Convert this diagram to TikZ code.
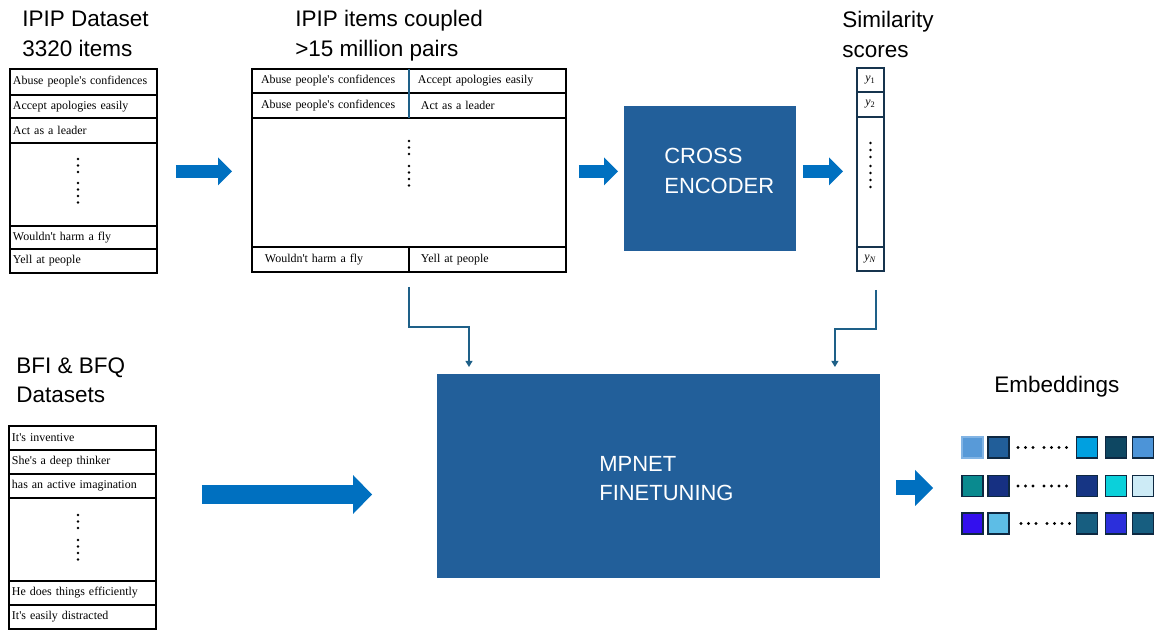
\documentclass[tikz,border=0pt]{standalone}
\usepackage{fontspec}
\setmainfont{Liberation Sans}
\newfontfamily\itemfont{Liberation Serif}
\usetikzlibrary{arrows.meta,positioning}

\definecolor{boxblue}{RGB}{34,95,154}
\definecolor{arrblue}{RGB}{0,112,192}
\definecolor{feedcol}{RGB}{30,96,136}
\definecolor{simcol}{RGB}{22,52,78}
\definecolor{sqline}{RGB}{14,40,65}
\definecolor{eA}{RGB}{88,154,216}
\definecolor{eAline}{RGB}{130,180,228}
\definecolor{eB}{RGB}{33,94,153}
\definecolor{eC}{RGB}{0,160,224}
\definecolor{eD}{RGB}{14,71,98}
\definecolor{eE}{RGB}{76,148,216}
\definecolor{eF}{RGB}{10,138,143}
\definecolor{eG}{RGB}{22,48,130}
\definecolor{eH}{RGB}{22,53,132}
\definecolor{eI}{RGB}{11,208,218}
\definecolor{eJ}{RGB}{205,235,246}
\definecolor{eK}{RGB}{51,16,238}
\definecolor{eL}{RGB}{93,189,230}
\definecolor{eM}{RGB}{23,94,128}
\definecolor{eN}{RGB}{43,47,219}
\definecolor{eO}{RGB}{23,94,128}

\begin{document}
\begin{tikzpicture}[x=0.02cm, y=-0.02cm]
  \tikzset{itm/.style={draw, line width=0.9pt, outer sep=0pt, inner xsep=0.06cm,
      inner ysep=0pt, anchor=north west, align=left,
      font=\itemfont\fontsize{6.8}{8}\selectfont},
    sc/.style={draw=simcol, line width=0.9pt, outer sep=0pt, inner sep=0pt,
      minimum width=0.54cm, font=\itemfont\fontsize{6.8}{8}\selectfont},
    head/.style={anchor=north west, inner sep=0pt, align=left,
      font=\fontsize{12.8}{17}\selectfont},
    boxtxt/.style={anchor=north west, inner sep=0pt, align=left, text=white,
      font=\fontsize{12.5}{16.7}\selectfont},
    blk/.style={fill=boxblue, inner sep=0pt, outer sep=0pt, anchor=north west},
    sq/.style={draw=sqline, line width=0.85pt, minimum size=0.42cm,
      inner sep=0pt, outer sep=0pt},
    blkarr/.style={draw=arrblue, line width=0.26cm,
      -{Triangle[length=0.28cm, width=0.56cm, line width=0pt]}},
    bigblkarr/.style={draw=arrblue, line width=0.38cm,
      -{Triangle[length=0.38cm, width=0.78cm, line width=0pt]}},
    embarr/.style={draw=arrblue, line width=0.3cm,
      -{Triangle[length=0.36cm, width=0.72cm, line width=0pt]}},
    feed/.style={draw=feedcol, line width=0.75pt,
      -{Triangle[length=3.5pt, width=4pt]}}}
  \useasboundingbox (0,0) rectangle (1157,630);

  % headings
  \node[head] (lt1) at (22,11) {IPIP Dataset\\3320 items};
  \node[head] (lt2) at (295,10) {IPIP items coupled\\>15 million pairs};
  \node[head] (lt3) at (842,11) {Similarity\\scores};
  \node[head] (lt4) at (16,357) {BFI \& BFQ\\Datasets};
  \node[head] (lt5) at (994,376) {Embeddings};

  % IPIP items
  \node[itm, text width=2.82cm, minimum height=0.52cm] (d1) at (10,69) {Abuse people's confidences};
  \node[itm, text width=2.82cm, minimum height=0.46cm, below=0pt of d1] (d2) {Accept apologies easily};
  \node[itm, text width=2.82cm, minimum height=0.50cm, below=0pt of d2] (d3) {Act as a leader};
  \node[itm, text width=2.82cm, minimum height=1.66cm, below=0pt of d3] (d4) {};
  \node[itm, text width=2.82cm, minimum height=0.46cm, below=0pt of d4] (d5) {Wouldn't harm a fly};
  \node[itm, text width=2.82cm, minimum height=0.48cm, below=0pt of d5] (d6) {Yell at people};
  \foreach \yy in {159,165.5,172,183,189.5,196,202.5} \fill (78,\yy) circle (0.75pt);

  % coupled pairs
  \node[itm, text width=2.78cm, inner xsep=0.18cm, minimum height=0.48cm] (p1a) at (252,69) {Abuse people's confidences};
  \node[itm, text width=2.78cm, inner xsep=0.18cm, minimum height=0.48cm, right=0pt of p1a] (p1b) {Accept apologies easily};
  \node[itm, text width=2.78cm, inner xsep=0.18cm, minimum height=0.50cm, below=0pt of p1a] (p2a) {Abuse people's confidences};
  \node[itm, text width=2.66cm, inner xsep=0.24cm, minimum height=0.50cm, right=0pt of p2a] (p2b) {Act as a leader};
  \node[itm, text width=6.16cm, minimum height=2.58cm] (p3) at (p2a.south west) {};
  \node[itm, text width=2.62cm, inner xsep=0.26cm, minimum height=0.50cm] (p4a) at (p3.south west) {Wouldn't harm a fly};
  \node[itm, text width=2.66cm, inner xsep=0.24cm, minimum height=0.50cm, right=0pt of p4a] (p4b) {Yell at people};
  \draw[feedcol, line width=0.9pt] (p1a.north east) -- (p2a.south east);
  \foreach \yy in {141,147.5,154,166,172.5,179,185.5} \fill (409,\yy) circle (0.75pt);

  % cross encoder
  \node[blk, minimum width=3.44cm, minimum height=2.9cm] (cross) at (624,106) {};
  \node[boxtxt] (ctx) at (664,148) {CROSS\\ENCODER};

  % scores
  \node[sc, minimum height=0.48cm, anchor=north west] (s1) at (857,68) {\textit{y}\textsubscript{1}};
  \node[sc, minimum height=0.50cm, below=0pt of s1] (s2) {\textit{y}\textsubscript{2}};
  \node[sc, minimum height=2.60cm, below=0pt of s2] (s3) {};
  \node[sc, minimum height=0.48cm, below=0pt of s3] (sN) {\textit{y}\textsubscript{\textit{N}}};
  \foreach \yy in {143,150,157,166,173,180,187} \fill (870.5,\yy) circle (0.75pt);

  % BFI & BFQ items
  \node[itm, text width=2.82cm, minimum height=0.48cm] (b1) at (9,426) {It's inventive};
  \node[itm, text width=2.82cm, minimum height=0.48cm, below=0pt of b1] (b2) {She's a deep thinker};
  \node[itm, text width=2.82cm, minimum height=0.48cm, below=0pt of b2] (b3) {has an active imagination};
  \node[itm, text width=2.82cm, minimum height=1.66cm, below=0pt of b3] (b4) {};
  \node[itm, text width=2.82cm, minimum height=0.48cm, below=0pt of b4] (b5) {He does things efficiently};
  \node[itm, text width=2.82cm, minimum height=0.48cm, below=0pt of b5] (b6) {It's easily distracted};
  \foreach \yy in {515,521.5,528,540,546.5,553,559.5} \fill (78,\yy) circle (0.75pt);

  % finetuning
  \node[blk, minimum width=8.86cm, minimum height=4.08cm] (mpnet) at (437,374) {};
  \node[boxtxt] (mtx) at (599,456) {MPNET\\FINETUNING};

  % embeddings
  \foreach \r/\yy/\ca/\cb/\cc/\cd/\ce in {1/447.5/eA/eB/eC/eD/eE,
      2/486/eF/eG/eH/eI/eJ, 3/523.5/eK/eL/eM/eN/eO} {
    \node[sq, fill=\ca] (e\r1) at (972.5,\yy) {};
    \node[sq, fill=\cb] (e\r2) at (998.5,\yy) {};
    \node[sq, fill=\cc] (e\r3) at (1087,\yy) {};
    \node[sq, fill=\cd] (e\r4) at (1116,\yy) {};
    \node[sq, fill=\ce] (e\r5) at (1143,\yy) {};
  }
  \draw[eAline, line width=0.85pt] (e11.south west) rectangle (e11.north east);
  \foreach \yy/\dx in {447.5/0, 486/0, 523.5/3}
    \foreach \xx in {1018,1025.5,1033,1044,1051.5,1059,1066.5}
      \fill (\xx+\dx,\yy) circle (0.9pt);

  % block arrows
  \coordinate (a1) at ([yshift=0.26cm]d4.east);
  \coordinate (a3) at ([yshift=0.22cm]p3.east);
  \coordinate (a5) at ([yshift=0.9cm]b4.east);
  \coordinate (a6) at ([yshift=-0.24cm]mpnet.east);
  \draw[blkarr, shorten <=0.38cm, shorten >=0.4cm] (a1) -- (a1 -| p3.west);
  \draw[blkarr, shorten <=0.26cm, shorten >=0.12cm] (a3) -- (a3 -| cross.west);
  \draw[blkarr, shorten <=0.14cm, shorten >=0.28cm] (a3 -| cross.east) -- (a3 -| s3.west);
  \draw[bigblkarr, shorten <=0.92cm, shorten >=1.3cm] (a5) -- (a5 -| mpnet.west);
  \draw[embarr, shorten <=0.32cm, shorten >=0.58cm] (a6) -- (a6 -| e21.west);

  % feeds into finetuning
  \coordinate (in1) at ([xshift=0.64cm]mpnet.north west);
  \coordinate (in2) at ([xshift=-0.9cm]mpnet.north east);
  \draw[feed, shorten <=0.3cm, shorten >=0.14cm] (p4a.south east) -- ++(0,55) -| (in1);
  \draw[feed, shorten <=0.38cm, shorten >=0.14cm] ([xshift=0.11cm]sN.south) -- ++(0,58) -| (in2);
\end{tikzpicture}
\end{document}
